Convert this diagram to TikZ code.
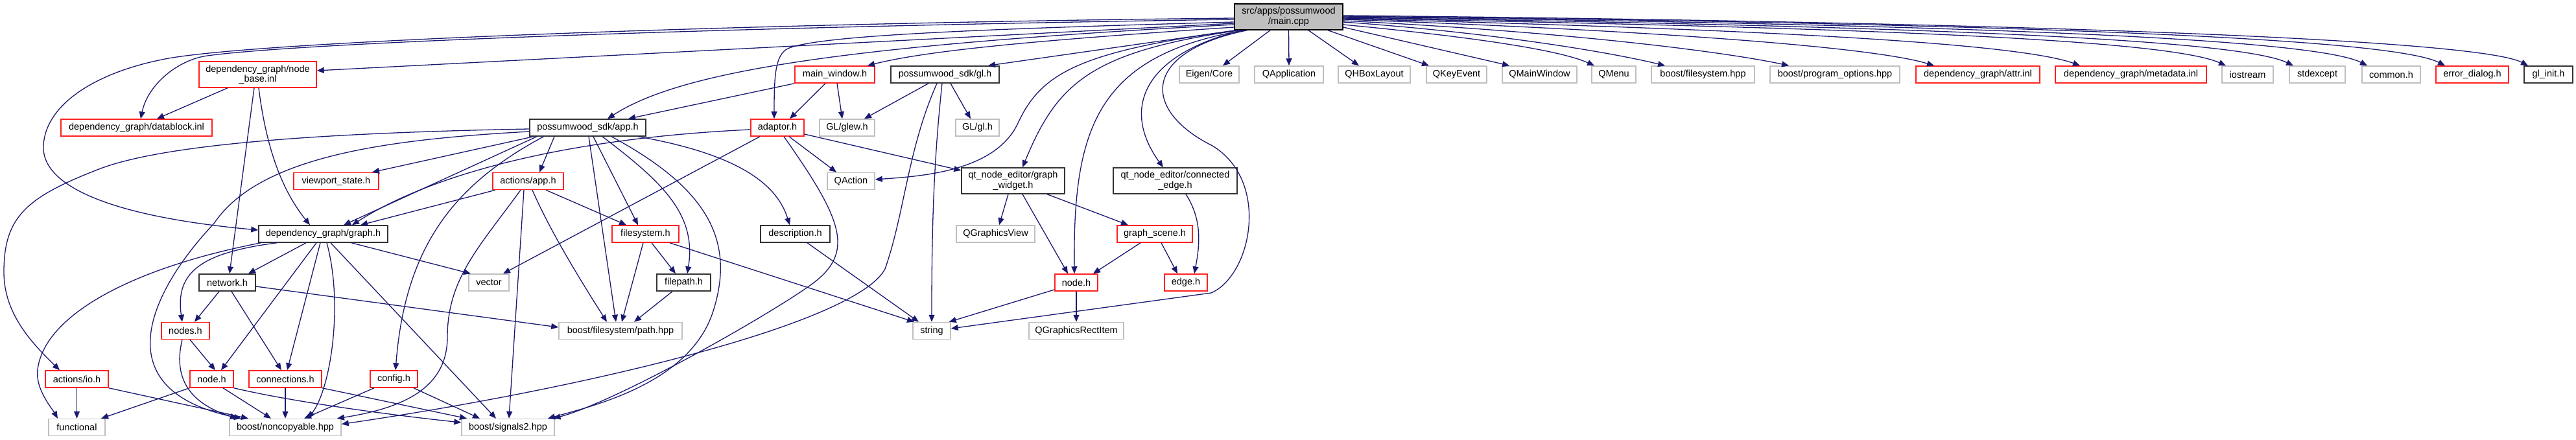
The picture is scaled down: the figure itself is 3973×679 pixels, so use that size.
\documentclass[tikz,border=0pt]{standalone}
\usepackage{fontspec}
\setmainfont{Liberation Sans}
\usetikzlibrary{arrows.meta}
\definecolor{edgecol}{HTML}{191970}
\definecolor{redb}{HTML}{FF2020}
\definecolor{grayb}{HTML}{BFBFBF}
\definecolor{darkb}{HTML}{333333}
\definecolor{rootfill}{HTML}{BFBFBF}
\tikzset{
  nbase/.style={draw, fill=white, line width=1.5pt, inner sep=0pt, align=center,
    font=\fontsize{14.5}{15.5}\selectfont, minimum height=26pt},
  redbox/.style={nbase, draw=redb},
  graybox/.style={nbase, draw=grayb},
  darkbox/.style={nbase, draw=darkb},
  rootbox/.style={nbase, draw=black, fill=rootfill},
  dep/.style={draw=edgecol, line width=1.3pt, -{Triangle[length=11pt,width=9pt]}},
}
\begin{document}
\begin{tikzpicture}[x=1pt,y=-1pt]
\fill[white] (0,0) rectangle (3973,679);
\path[use as bounding box] (0,0) rectangle (3973,679);

% row 1
\node[rootbox, minimum width=167pt, minimum height=40pt] (main) at (1987.5,26) {src/apps/possumwood\\/main.cpp};
% row 2
\node[redbox, minimum width=181pt, minimum height=40pt] (nodebase) at (397.5,115) {dependency\_graph/node\\\_base.inl};
\node[redbox, minimum width=123pt] (mainwin) at (1287.5,115) {main\_window.h};
\node[darkbox, minimum width=167pt] (glh) at (1457.5,115) {possumwood\_sdk/gl.h};
\node[graybox, minimum width=92pt] (eigen) at (1865,115) {Eigen/Core};
\node[graybox, minimum width=106pt] (qapp) at (1988,115) {QApplication};
\node[graybox, minimum width=111pt] (qhbox) at (2119.5,115) {QHBoxLayout};
\node[graybox, minimum width=93pt] (qkey) at (2246.5,115) {QKeyEvent};
\node[graybox, minimum width=115pt] (qmainwin) at (2374.5,115) {QMainWindow};
\node[graybox, minimum width=68pt] (qmenu) at (2489,115) {QMenu};
\node[graybox, minimum width=159pt] (bfs) at (2626.5,115) {boost/filesystem.hpp};
\node[graybox, minimum width=200pt] (bpo) at (2830,115) {boost/program\_options.hpp};
\node[redbox, minimum width=191pt] (attr) at (3050.5,115) {dependency\_graph/attr.inl};
\node[redbox, minimum width=233pt] (metadata) at (3286.5,115) {dependency\_graph/metadata.inl};
\node[graybox, minimum width=79pt] (iostream) at (3466.5,115) {iostream};
\node[graybox, minimum width=86pt] (stdexcept) at (3574,115) {stdexcept};
\node[graybox, minimum width=90pt] (common) at (3688,115) {common.h};
\node[redbox, minimum width=112pt] (errdlg) at (3813,115) {error\_dialog.h};
\node[darkbox, minimum width=75pt] (glinit) at (3930.5,115) {gl\_init.h};
% row 3
\node[redbox, minimum width=233pt] (datablock) at (210.5,197) {dependency\_graph/datablock.inl};
\node[darkbox, minimum width=179pt] (apph) at (906.5,197) {possumwood\_sdk/app.h};
\node[redbox, minimum width=82pt] (adaptor) at (1199,197) {adaptor.h};
\node[graybox, minimum width=85pt] (glew) at (1306.5,197) {GL/glew.h};
\node[graybox, minimum width=67pt] (glgl) at (1507.5,197) {GL/gl.h};
% row 4
\node[redbox, minimum width=131pt] (viewport) at (518.5,279.5) {viewport\_state.h};
\node[redbox, minimum width=109pt] (actapp) at (814.5,279.5) {actions/app.h};
\node[graybox, minimum width=73pt] (qaction) at (1312.5,279.5) {QAction};
\node[darkbox, minimum width=159pt, minimum height=40pt] (gwidget) at (1562.5,279) {qt\_node\_editor/graph\\\_widget.h};
\node[darkbox, minimum width=191pt, minimum height=40pt] (cedge) at (1812.5,279) {qt\_node\_editor/connected\\\_edge.h};
% row 5
\node[darkbox, minimum width=199pt] (graphh) at (498.5,361) {dependency\_graph/graph.h};
\node[redbox, minimum width=103pt] (fsh) at (995.5,361) {filesystem.h};
\node[darkbox, minimum width=107pt] (desc) at (1226.5,361) {description.h};
\node[graybox, minimum width=121pt] (qgview) at (1535.5,361) {QGraphicsView};
\node[redbox, minimum width=116pt] (gscene) at (1781,361) {graph\_scene.h};
% row 6
\node[darkbox, minimum width=87pt] (network) at (350.5,436) {network.h};
\node[graybox, minimum width=62pt] (vector) at (754,436) {vector};
\node[darkbox, minimum width=83pt] (filepath) at (1054.5,436) {filepath.h};
\node[redbox, minimum width=66pt] (qnode) at (1660,436) {node.h};
\node[redbox, minimum width=66pt] (qedge) at (1829,436) {edge.h};
% row 7
\node[redbox, minimum width=74pt] (nodes) at (286,510.5) {nodes.h};
\node[graybox, minimum width=190pt] (bpath) at (957,510.5) {boost/filesystem/path.hpp};
\node[graybox, minimum width=58pt] (string) at (1437,510.5) {string};
\node[graybox, minimum width=146pt] (qgri) at (1660,510.5) {QGraphicsRectItem};
% row 8
\node[redbox, minimum width=97pt] (actio) at (118.5,585) {actions/io.h};
\node[redbox, minimum width=67pt] (dgnode) at (326.5,585) {node.h};
\node[redbox, minimum width=112pt] (conn) at (440,585) {connections.h};
\node[redbox, minimum width=73pt] (config) at (607.5,585) {config.h};
% row 9
\node[graybox, minimum width=87pt] (functional) at (118.5,659.5) {functional};
\node[graybox, minimum width=172pt] (noncopy) at (440,659.5) {boost/noncopyable.hpp};
\node[graybox, minimum width=143pt] (signals) at (783.5,659.5) {boost/signals2.hpp};

% ---- edges from main.cpp
\draw[dep] ([yshift=-10pt]main.west) -- ([yshift=6pt]nodebase.east);
\draw[dep] ([yshift=-4pt]main.west) .. controls (1200,40) and (480,64) .. (320,86) .. controls (275,92) and (228,130) .. ([xshift=6.5pt]datablock.north);
\draw[dep] ([yshift=-2pt]main.west) .. controls (1200,35) and (420,62) .. (260,90) .. controls (150,110) and (70,160) .. (67,225) .. controls (64,290) and (180,335) .. ([yshift=6pt]graphh.west);
\draw[dep] ([yshift=-12pt]main.west) .. controls (1300,70) and (1050,110) .. ([xshift=30.5pt]apph.north);
\draw[dep] ([yshift=-16pt]main.west) .. controls (1600,62) and (1430,78) .. ([xshift=50.5pt]mainwin.north);
\draw[dep] ([xshift=-81.5pt]main.south) -- ([xshift=66.5pt]glh.north);
\draw[dep] ([yshift=-8pt]main.west) .. controls (1500,45) and (1260,55) .. (1215,75) .. controls (1195,85) and (1194,120) .. ([xshift=-5pt]adaptor.north);
\draw[dep] ([xshift=-80pt]main.south) .. controls (1660,80) and (1605,115) .. (1570,190) .. controls (1535,265) and (1420,272) .. ([yshift=2.5pt]qaction.east);
\draw[dep] ([xshift=-76pt]main.south) .. controls (1680,80) and (1630,130) .. ([xshift=14.5pt]gwidget.north);
\draw[dep] ([xshift=-72pt]main.south) .. controls (1760,85) and (1730,170) .. ([xshift=-18.5pt]cedge.north);
\draw[dep] ([xshift=-68pt]main.south) .. controls (1690,85) and (1655,200) .. ([xshift=-3pt]qnode.north);
\draw[dep] ([xshift=-64pt]main.south) .. controls (1760,80) and (1760,170) .. (1870,225) .. controls (1960,280) and (1930,425) .. (1868,452) -- ([yshift=3.5pt]string.east);
\draw[dep] ([xshift=-28.5pt]main.south) -- ([xshift=21pt]eigen.north);
\draw[dep] (main.south) -- (qapp.north);
\draw[dep] ([xshift=30.5pt]main.south) -- ([xshift=-23.5pt]qhbox.north);
\draw[dep] ([xshift=60.5pt]main.south) -- ([xshift=-42.5pt]qkey.north);
\draw[dep] ([yshift=-16pt]main.east) -- ([xshift=-46.5pt]qmainwin.north);
\draw[dep] ([yshift=-12pt]main.east) .. controls (2250,55) and (2400,75) .. ([xshift=-30pt]qmenu.north);
\draw[dep] ([yshift=-8pt]main.east) .. controls (2300,50) and (2480,80) .. ([xshift=-58.5pt]bfs.north);
\draw[dep] ([yshift=-6pt]main.east) .. controls (2400,48) and (2650,78) .. ([xshift=-71pt]bpo.north);
\draw[dep] ([yshift=-4pt]main.east) .. controls (2500,45) and (2880,70) .. ([xshift=-67.5pt]attr.north);
\draw[dep] ([yshift=-3pt]main.east) .. controls (2600,42) and (3100,62) .. ([xshift=-78.5pt]metadata.north);
\draw[dep] ([yshift=-2pt]main.east) .. controls (2700,40) and (3330,55) .. ([xshift=-33.5pt]iostream.north);
\draw[dep] ([yshift=-1pt]main.east) .. controls (2800,38) and (3440,55) .. ([xshift=-37pt]stdexcept.north);
\draw[dep] (main.east) .. controls (2900,36) and (3560,55) .. ([xshift=-37pt]common.north);
\draw[dep] ([yshift=1pt]main.east) .. controls (3000,35) and (3680,55) .. ([xshift=-42pt]errdlg.north);
\draw[dep] ([yshift=2pt]main.east) .. controls (3100,34) and (3820,60) .. ([xshift=-31.5pt]glinit.north);

% ---- node_base.inl
\draw[dep] ([xshift=-46.5pt]nodebase.south) -- ([xshift=31.5pt]datablock.north);
\draw[dep] ([xshift=-5.5pt]nodebase.south) -- ([xshift=3.5pt]network.north);
\draw[dep] ([xshift=1.5pt]nodebase.south) .. controls (412,240) and (440,300) .. ([xshift=-20.5pt]graphh.north);

% ---- possumwood_sdk/app.h
\draw[dep] ([yshift=-2pt]apph.west) .. controls (500,205) and (250,222) .. (150,262) .. controls (40,305) and (6,335) .. (6,420) .. controls (6,485) and (50,530) .. ([xshift=-26.5pt]actio.north);
\draw[dep] ([xshift=-83.5pt]apph.south) -- ([xshift=55.5pt]viewport.north);
\draw[dep] ([xshift=-78.5pt]apph.south) -- ([xshift=31.5pt]graphh.north);
\draw[dep] ([yshift=-6pt]apph.west) .. controls (600,215) and (400,240) .. (330,345) .. controls (240,440) and (150,600) .. ([xshift=-68pt]noncopy.north);
\draw[dep] ([xshift=-51.5pt]apph.south) -- ([xshift=17.5pt]actapp.north);
\draw[dep] ([xshift=-68pt]apph.south) .. controls (700,285) and (625,380) .. ([xshift=2.5pt]config.north);
\draw[dep] ([xshift=8.5pt]apph.south) -- ([xshift=-11.5pt]fsh.north);
\draw[dep] ([xshift=1.5pt]apph.south) -- ([xshift=-7pt]bpath.north);
\draw[dep] ([xshift=22.5pt]apph.south) .. controls (1020,280) and (1075,330) .. ([xshift=5.5pt]filepath.north);
\draw[dep] ([xshift=36.5pt]apph.south) .. controls (1090,290) and (1135,370) .. (1100,480) .. controls (1065,590) and (920,625) .. ([xshift=61.5pt]signals.north);
\draw[dep] ([xshift=77.5pt]apph.south) .. controls (1150,240) and (1200,290) .. ([xshift=-8.5pt]desc.north);

% ---- actions/app.h
\draw[dep] ([xshift=-50.5pt]actapp.south) -- ([xshift=57.5pt]graphh.north);
\draw[dep] ([xshift=-11.5pt]actapp.south) .. controls (740,380) and (690,430) .. (690,520) .. controls (690,600) and (620,630) .. ([xshift=80pt]noncopy.north);
\draw[dep] ([xshift=-6.5pt]actapp.south) -- ([xshift=1.5pt]signals.north);
\draw[dep] ([xshift=6.5pt]actapp.south) .. controls (850,360) and (900,440) .. ([xshift=-21pt]bpath.north);
\draw[dep] ([xshift=27.5pt]actapp.south) -- ([xshift=-29.5pt]fsh.north);

% ---- adaptor.h
\draw[dep] ([yshift=-3pt]adaptor.west) .. controls (900,212) and (680,260) .. ([xshift=44.5pt]graphh.north);
\draw[dep] ([xshift=-27pt]adaptor.south) -- ([xshift=22pt]vector.north);
\draw[dep] ([xshift=18pt]adaptor.south) -- ([xshift=-22.5pt]qaction.north);
\draw[dep] ([yshift=-10pt]adaptor.east) -- ([yshift=16pt]gwidget.west);
\draw[dep] ([xshift=10pt]adaptor.south) .. controls (1300,340) and (1320,390) .. (1250,440) .. controls (1180,490) and (950,620) .. ([xshift=70pt]signals.north);

% ---- main_window.h
\draw[dep] (mainwin.south west) -- ([xshift=62.5pt]apph.north);
\draw[dep] ([xshift=-14.5pt]mainwin.south) -- ([xshift=19pt]adaptor.north);
\draw[dep] ([xshift=3.5pt]mainwin.south) -- ([xshift=-7.5pt]glew.north);

% ---- possumwood_sdk/gl.h
\draw[dep] ([xshift=-25.5pt]glh.south) -- ([xshift=26.5pt]glew.north);
\draw[dep] ([xshift=8.5pt]glh.south) -- ([xshift=-10.5pt]glgl.north);
\draw[dep] ([xshift=-4.5pt]glh.south) .. controls (1440,250) and (1437,350) .. (string.north);
\draw[dep] ([xshift=-12.5pt]glh.south) .. controls (1400,230) and (1395,330) .. (1365,415) .. controls (1320,500) and (900,600) .. ([yshift=5pt]noncopy.east);

% ---- qt_node_editor
\draw[dep] ([xshift=-7.5pt]gwidget.south) -- ([xshift=5.5pt]qgview.north);
\draw[dep] ([xshift=14.5pt]gwidget.south) -- ([xshift=-13pt]qnode.north);
\draw[dep] ([xshift=52.5pt]gwidget.south) -- ([xshift=-41pt]gscene.north);
\draw[dep] ([xshift=16.5pt]cedge.south) .. controls (1855,340) and (1850,380) .. ([xshift=13pt]qedge.north);
\draw[dep] ([xshift=-22pt]gscene.south) -- ([xshift=26pt]qnode.north);
\draw[dep] ([xshift=10pt]gscene.south) -- ([xshift=-13pt]qedge.north);
\draw[dep] ([yshift=-11pt]qnode.west) -- ([xshift=-3pt]string.north east);
\draw[dep] (qnode.south) -- (qgri.north);

% ---- filesystem / description
\draw[dep] ([xshift=9.5pt]fsh.south) -- ([xshift=-12.5pt]filepath.north);
\draw[dep] ([xshift=-3.5pt]fsh.south) -- ([xshift=2pt]bpath.north);
\draw[dep] ([xshift=37.5pt]fsh.south) -- ([xshift=-27pt]string.north);
\draw[dep] ([xshift=18.5pt]desc.south) -- ([xshift=-20pt]string.north);
\draw[dep] ([xshift=-17.5pt]filepath.south) -- ([xshift=21pt]bpath.north);

% ---- dependency_graph/graph.h
\draw[dep] ([xshift=-26.5pt]graphh.south) -- ([xshift=32.5pt]network.north);
\draw[dep] ([xshift=43.5pt]graphh.south) -- ([xshift=-28pt]vector.north);
\draw[dep] ([xshift=-71.5pt]graphh.south) .. controls (310,390) and (270,420) .. ([xshift=-5pt]nodes.north);
\draw[dep] ([xshift=-10.5pt]graphh.south) -- ([xshift=14.5pt]dgnode.north);
\draw[dep] ([xshift=-4.5pt]graphh.south) -- ([xshift=3pt]conn.north);
\draw[dep] ([xshift=5.5pt]graphh.south) .. controls (530,470) and (510,600) .. ([xshift=35pt]noncopy.north);
\draw[dep] ([xshift=11.5pt]graphh.south) -- ([xshift=-18.5pt]signals.north);
\draw[dep] ([xshift=-96pt]graphh.south) .. controls (220,410) and (70,480) .. (58,570) .. controls (54,600) and (80,630) .. ([xshift=-29.5pt]functional.north);

% ---- network.h, nodes.h
\draw[dep] ([xshift=-12.5pt]network.south) -- ([xshift=14pt]nodes.north);
\draw[dep] ([xshift=6.5pt]network.south) -- ([xshift=-6pt]conn.north);
\draw[dep] ([yshift=-6pt]network.east) -- ([yshift=5.5pt]bpath.west);
\draw[dep] ([xshift=7pt]nodes.south) -- ([xshift=5.5pt]dgnode.north);
\draw[dep] ([xshift=-5pt]nodes.south) .. controls (265,590) and (300,625) .. ([xshift=-74pt]noncopy.north);

% ---- bottom rows
\draw[dep] (dgnode.south west) -- ([xshift=37.5pt]functional.north);
\draw[dep] ([xshift=17.5pt]dgnode.south) -- ([xshift=-22pt]noncopy.north);
\draw[dep] (dgnode.south east) .. controls (450,620) and (600,640) .. ([yshift=7.5pt]signals.west);
\draw[dep] (conn.south) -- (noncopy.north);
\draw[dep] (conn.south east) -- ([xshift=-63.5pt]signals.north);
\draw[dep] ([xshift=-30.5pt]config.south) -- ([xshift=29pt]noncopy.north);
\draw[dep] ([xshift=30.5pt]config.south) -- ([xshift=-43.5pt]signals.north);
\draw[dep] (actio.south) -- (functional.north);
\draw[dep] (actio.south east) -- ([xshift=-57pt]noncopy.north);
\end{tikzpicture}
\end{document}
